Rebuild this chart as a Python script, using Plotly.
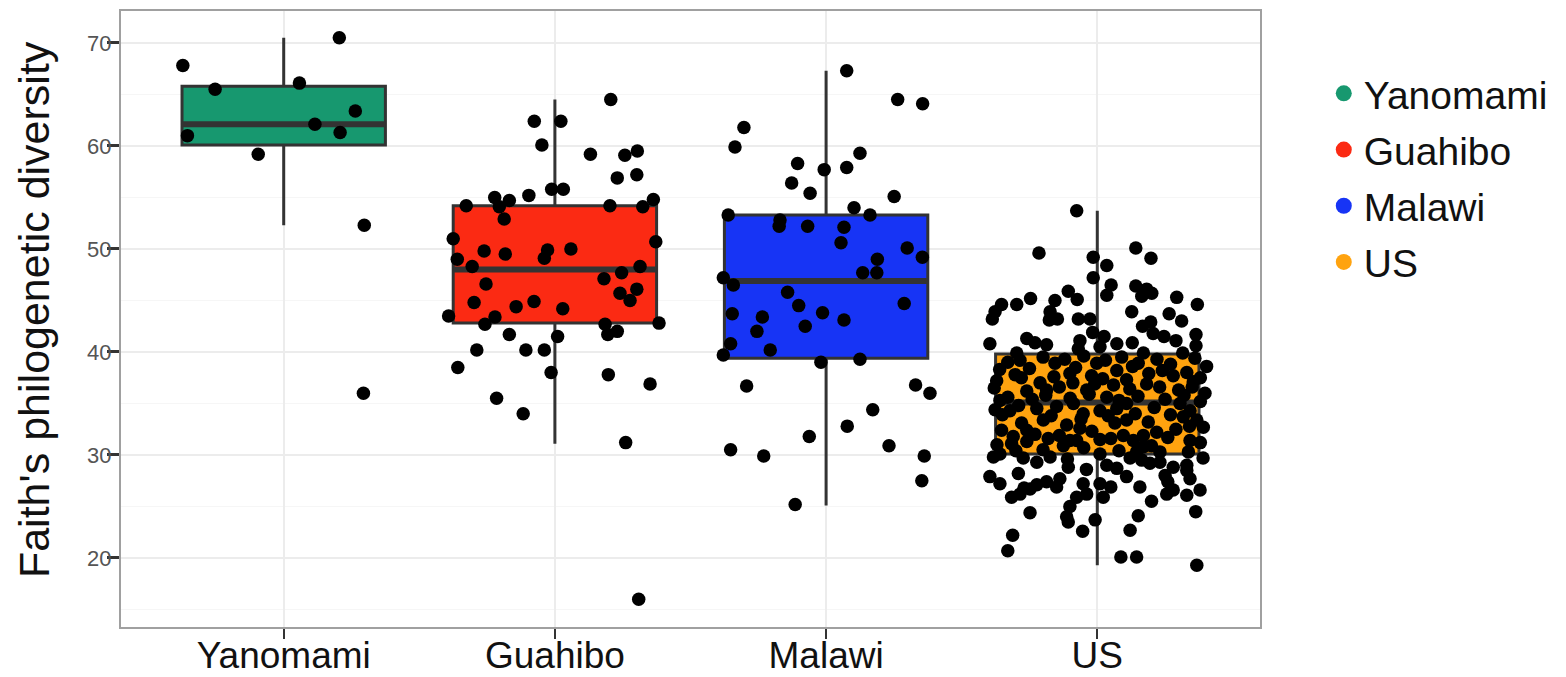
import plotly.graph_objects as go

# ---------------- data ----------------
categories = ["Yanomami", "Guahibo", "Malawi", "US"]
colors = ["#17986f", "#fb2a13", "#1734f5", "#ffa30f"]

# box statistics
q1 = [60.1, 42.8, 39.4, 30.1]
median = [62.1, 48.0, 46.9, 35.1]
q3 = [65.8, 54.2, 53.3, 39.8]
lower_fence = [52.3, 31.1, 25.1, 19.3]
upper_fence = [70.5, 64.5, 67.3, 53.7]

# jittered points: (horizontal jitter offset in category units, value)
yanomami_pts = [
    (-0.372, 67.8), (0.205, 70.5), (-0.253, 65.5), (0.058, 66.1), (0.264, 63.4),
    (0.115, 62.1), (-0.355, 61.0), (0.208, 61.3), (-0.094, 59.2), (0.297, 52.3),
    (0.294, 36.0),
]

guahibo_pts = [
    (0.206, 64.5), (-0.076, 62.4), (0.022, 62.4), (-0.048, 60.1), (0.131, 59.2),
    (0.258, 59.1), (0.304, 59.5), (0.230, 56.9), (0.302, 57.2), (-0.012, 55.8),
    (0.031, 55.8), (-0.096, 55.2), (-0.222, 55.0), (-0.168, 54.7), (-0.327, 54.2),
    (-0.205, 54.1), (0.203, 54.2), (0.324, 54.1), (0.363, 54.8), (-0.187, 52.9),
    (-0.375, 51.0), (0.372, 50.7), (-0.261, 49.8), (-0.183, 49.5), (-0.027, 49.9),
    (-0.039, 49.1), (0.059, 50.0), (-0.360, 49.0), (-0.305, 48.3), (0.314, 48.3),
    (0.246, 47.7), (0.181, 47.1), (-0.254, 46.6), (0.240, 45.7), (0.302, 46.1),
    (0.277, 45.0), (-0.298, 44.8), (-0.143, 44.4), (-0.077, 44.9), (0.029, 44.2),
    (-0.392, 43.5), (-0.221, 43.4), (-0.258, 42.7), (0.384, 42.8), (0.185, 42.7),
    (-0.168, 41.7), (0.010, 41.5), (0.195, 41.7), (0.230, 42.0), (-0.288, 40.2),
    (-0.107, 40.2), (-0.039, 40.2), (-0.358, 38.5), (-0.014, 38.0), (0.197, 37.8),
    (0.351, 36.9), (-0.215, 35.5), (-0.117, 34.0), (0.261, 31.2), (0.309, 16.0),
]

malawi_pts = [
    (0.076, 67.3), (0.264, 64.5), (0.356, 64.1), (-0.303, 61.8), (-0.336, 59.9),
    (0.125, 59.3), (-0.105, 58.3), (-0.007, 57.7), (0.076, 57.9), (-0.127, 56.4),
    (-0.059, 55.4), (0.251, 55.1), (0.103, 54.0), (0.162, 53.3), (-0.361, 53.3),
    (-0.170, 52.8), (-0.173, 52.2), (-0.068, 52.2), (0.066, 52.1), (0.055, 50.6),
    (0.299, 50.1), (0.355, 49.2), (0.189, 49.0), (0.135, 47.7), (0.187, 47.7),
    (-0.379, 47.2), (-0.342, 46.5), (-0.142, 45.8), (-0.101, 44.5), (0.288, 44.7),
    (-0.346, 43.7), (-0.235, 43.4), (-0.013, 43.8), (0.066, 43.1), (-0.255, 42.0),
    (-0.077, 42.5), (-0.352, 40.8), (-0.206, 40.2), (-0.379, 39.7), (-0.019, 39.0),
    (0.125, 39.3), (-0.293, 36.7), (0.330, 36.8), (0.383, 36.0), (0.172, 34.4),
    (0.078, 32.8), (-0.062, 31.8), (-0.352, 30.5), (-0.230, 29.9), (0.232, 30.9),
    (0.362, 29.9), (0.353, 27.5), (-0.114, 25.2),
]

us_pts = [
    (-0.076, 53.7), (-0.215, 49.6), (0.142, 50.1), (0.198, 49.1), (-0.015, 49.2),
    (0.035, 48.4), (-0.015, 47.2), (0.051, 46.5), (0.035, 45.5), (0.142, 46.4),
    (0.182, 46.1), (0.164, 45.4), (0.201, 45.7), (0.293, 45.3), (0.369, 44.6),
    (-0.107, 45.9), (-0.074, 45.1), (-0.156, 45.0), (-0.246, 45.2), (-0.297, 44.6),
    (-0.353, 44.6), (-0.377, 43.9), (-0.387, 43.2), (-0.174, 43.9), (-0.177, 43.1),
    (-0.147, 43.2), (-0.070, 43.2), (-0.027, 43.2), (0.127, 43.9), (0.265, 43.7),
    (0.311, 43.0), (0.167, 42.5), (0.197, 42.9), (0.206, 41.8), (0.246, 41.5),
    (0.290, 41.1), (0.364, 41.7), (0.364, 40.6), (-0.017, 41.9), (0.025, 41.5),
    (-0.396, 40.8), (-0.260, 41.3), (-0.230, 40.9), (-0.187, 40.7), (-0.064, 41.1),
    (0.072, 40.8), (0.129, 40.9), (-0.070, 40.3), (0.010, 40.5), (-0.297, 39.9),
    (0.170, 39.9), (0.315, 39.9), (0.403, 38.6), (-0.285, 39.2), (-0.156, 38.9),
    (-0.002, 38.9), (0.151, 38.9), (-0.371, 37.2), (-0.303, 37.8), (-0.211, 37.0),
    (-0.101, 37.9), (-0.021, 37.7), (0.072, 38.2), (0.108, 37.3), (0.280, 37.7),
    (0.354, 37.1), (0.182, 36.9), (0.397, 36.0), (-0.039, 36.3), (0.035, 35.6),
    (-0.187, 36.3), (-0.359, 35.3), (-0.377, 34.4), (-0.322, 34.3), (-0.223, 34.5),
    (-0.150, 34.7), (-0.088, 35.0), (-0.052, 34.0), (0.010, 34.3), (0.072, 34.5),
    (0.108, 35.0), (0.305, 35.0), (0.342, 34.3), (0.367, 33.4), (0.317, 33.7),
    (-0.279, 33.1), (-0.199, 33.4), (-0.113, 32.9), (0.065, 33.1), (0.108, 33.4),
    (0.188, 33.2), (0.219, 32.2), (0.391, 32.7), (-0.353, 32.4), (-0.064, 32.6),
    (-0.260, 32.4), (-0.310, 31.8), (-0.181, 31.6), (-0.101, 31.4), (0.010, 31.5),
    (0.096, 31.9), (0.133, 31.4), (0.170, 30.8), (0.231, 30.3), (0.342, 31.4),
    (0.336, 30.3), (-0.316, 31.1), (-0.260, 31.3), (-0.125, 30.9), (-0.076, 31.4),
    (-0.383, 29.8), (-0.359, 30.1), (-0.273, 29.7), (-0.223, 29.3), (-0.174, 29.8),
    (0.010, 30.1), (0.035, 29.0), (0.072, 28.7), (0.121, 29.7), (0.145, 30.3),
    (0.164, 29.5), (0.194, 29.2), (0.231, 29.3), (0.280, 28.8), (0.330, 29.0),
    (-0.107, 28.8), (-0.396, 27.9), (-0.359, 27.2), (-0.291, 28.2), (-0.223, 27.1),
    (-0.187, 27.4), (-0.138, 27.7), (-0.052, 27.2), (0.010, 27.2), (0.108, 27.9),
    (0.157, 26.9), (0.250, 28.0), (0.330, 28.5), (0.342, 27.7), (0.379, 26.6),
    (0.256, 26.2), (0.280, 26.6), (0.330, 26.1), (-0.316, 25.9), (-0.285, 26.2),
    (-0.248, 26.7), (-0.150, 26.9), (-0.076, 25.9), (-0.039, 26.2), (0.022, 25.9),
    (-0.248, 24.4), (-0.101, 25.0), (-0.113, 24.0), (-0.107, 23.5), (-0.008, 23.7),
    (0.151, 24.1), (0.363, 24.5), (-0.054, 22.6), (0.121, 22.7), (-0.312, 22.2),
    (-0.330, 20.7), (0.087, 20.1), (0.145, 20.1), (0.367, 19.3),
    # dense interior of the box (estimated)
    (-0.33, 39.0), (-0.25, 38.4), (-0.20, 39.5), (-0.12, 39.3), (-0.05, 39.6),
    (0.03, 39.2), (0.09, 39.5), (0.22, 39.3), (0.27, 38.8), (0.36, 39.4),
    (-0.36, 38.3), (-0.28, 37.5), (-0.16, 37.6), (-0.08, 38.5), (0.02, 37.4),
    (0.13, 38.6), (0.19, 37.9), (0.24, 38.2), (0.33, 38.0), (0.38, 37.5),
    (-0.38, 36.5), (-0.26, 36.2), (-0.14, 36.6), (-0.09, 37.0), (0.06, 36.8),
    (0.12, 36.4), (0.23, 36.6), (0.30, 36.3), (0.35, 36.6), (-0.01, 36.9),
    (-0.33, 35.6), (-0.24, 35.4), (-0.19, 35.8), (-0.10, 35.5), (-0.03, 35.9),
    (0.08, 35.3), (0.15, 35.7), (0.25, 35.4), (0.32, 35.8), (0.38, 35.2),
    (-0.35, 33.9), (-0.29, 34.8), (-0.17, 33.8), (-0.06, 33.5), (0.04, 33.8),
    (0.14, 34.0), (0.21, 34.6), (0.27, 33.9), (0.34, 32.8), (-0.23, 32.0),
    (-0.14, 31.9), (-0.02, 32.3), (0.05, 31.6), (0.17, 31.9), (0.26, 31.7),
    (0.38, 31.2), (-0.37, 31.0), (-0.20, 30.5), (-0.05, 30.7), (0.08, 30.4),
    (0.29, 32.5), (-0.30, 30.4), (0.20, 30.9), (-0.11, 29.6), (0.39, 29.7),
    (-0.04, 28.6), (0.26, 27.4), (-0.27, 26.8), (0.05, 26.9), (0.20, 25.5),
]

points = [yanomami_pts, guahibo_pts, malawi_pts, us_pts]
y_ticks = [20, 30, 40, 50, 60, 70]
y_title = "Faith's philogenetic diversity"

# ---------------- figure ----------------
BOX_W = 0.75
FONT = "Liberation Sans, Arial, Helvetica, sans-serif"

fig = go.Figure()

for i, cat in enumerate(categories):
    fig.add_trace(go.Box(
        x=[i], q1=[q1[i]], median=[median[i]], q3=[q3[i]],
        lowerfence=[lower_fence[i]], upperfence=[upper_fence[i]],
        width=BOX_W, whiskerwidth=0,
        fillcolor=colors[i], line=dict(color="#333333", width=3),
        boxpoints=False, showlegend=False, name=cat, hoverinfo="skip",
    ))

# thicker median bar (ggplot style)
for i, cat in enumerate(categories):
    fig.add_trace(go.Scatter(
        x=[i - BOX_W / 2, i + BOX_W / 2], y=[median[i], median[i]],
        mode="lines", line=dict(color="#333333", width=6),
        showlegend=False, hoverinfo="skip",
    ))

# jittered points
for i, cat in enumerate(categories):
    pts = points[i]
    fig.add_trace(go.Scatter(
        x=[i + dx for dx, _ in pts], y=[v for _, v in pts],
        mode="markers", marker=dict(color="black", size=13.5, line=dict(width=0)),
        showlegend=False, name=cat,
    ))

# legend entries
for i, cat in enumerate(categories):
    fig.add_trace(go.Scatter(
        x=[None], y=[None], mode="markers",
        marker=dict(color=colors[i], size=16, symbol="circle"),
        name=cat, showlegend=True, legendgroup=cat,
    ))

fig.update_layout(
    width=1566, height=677,
    margin=dict(l=121, r=306, t=11, b=50, autoexpand=False),
    paper_bgcolor="white", plot_bgcolor="white",
    font=dict(family=FONT, color="#111111"),
    legend=dict(
        x=1.056, xanchor="left", y=0.918, yanchor="top",
        font=dict(size=39, color="#111111", family=FONT),
        traceorder="grouped", tracegroupgap=2.5,
        itemsizing="trace", bgcolor="rgba(0,0,0,0)",
    ),
    xaxis=dict(
        range=[-0.6, 3.6], tickmode="array", tickvals=list(range(len(categories))),
        ticktext=categories, tickfont=dict(size=37, color="#111111", family=FONT),
        ticks="outside", ticklen=10, tickwidth=2, tickcolor="#333333",
        ticklabelstandoff=-15,
        showgrid=True, gridcolor="#ececec", gridwidth=1.5,
        showline=True, linecolor="#a0a0a0", linewidth=2, mirror=True,
        zeroline=False, fixedrange=True,
    ),
    yaxis=dict(
        range=[13.3, 73.1], tickmode="array", tickvals=y_ticks,
        tickfont=dict(size=22, color="#555555", family=FONT),
        ticks="outside", ticklen=12, tickwidth=3, tickcolor="#333333",
        ticklabelstandoff=-9,
        showgrid=True, gridcolor="#ececec", gridwidth=1.5,
        minor=dict(dtick=5, showgrid=True, gridcolor="#f6f6f6", gridwidth=1, ticks=""),
        showline=True, linecolor="#a0a0a0", linewidth=2, mirror=True,
        zeroline=False, fixedrange=True,
    ),
    annotations=[dict(
        text=y_title, textangle=-90, xref="paper", yref="paper",
        x=-0.077, y=0.515, xanchor="center", yanchor="middle", showarrow=False,
        font=dict(size=43, color="#111111", family=FONT),
    )],
)

fig.write_html(
    "out.html",
    config={"displayModeBar": False},
    post_script="document.body.style.margin='0px';document.body.style.overflow='hidden';",
)
